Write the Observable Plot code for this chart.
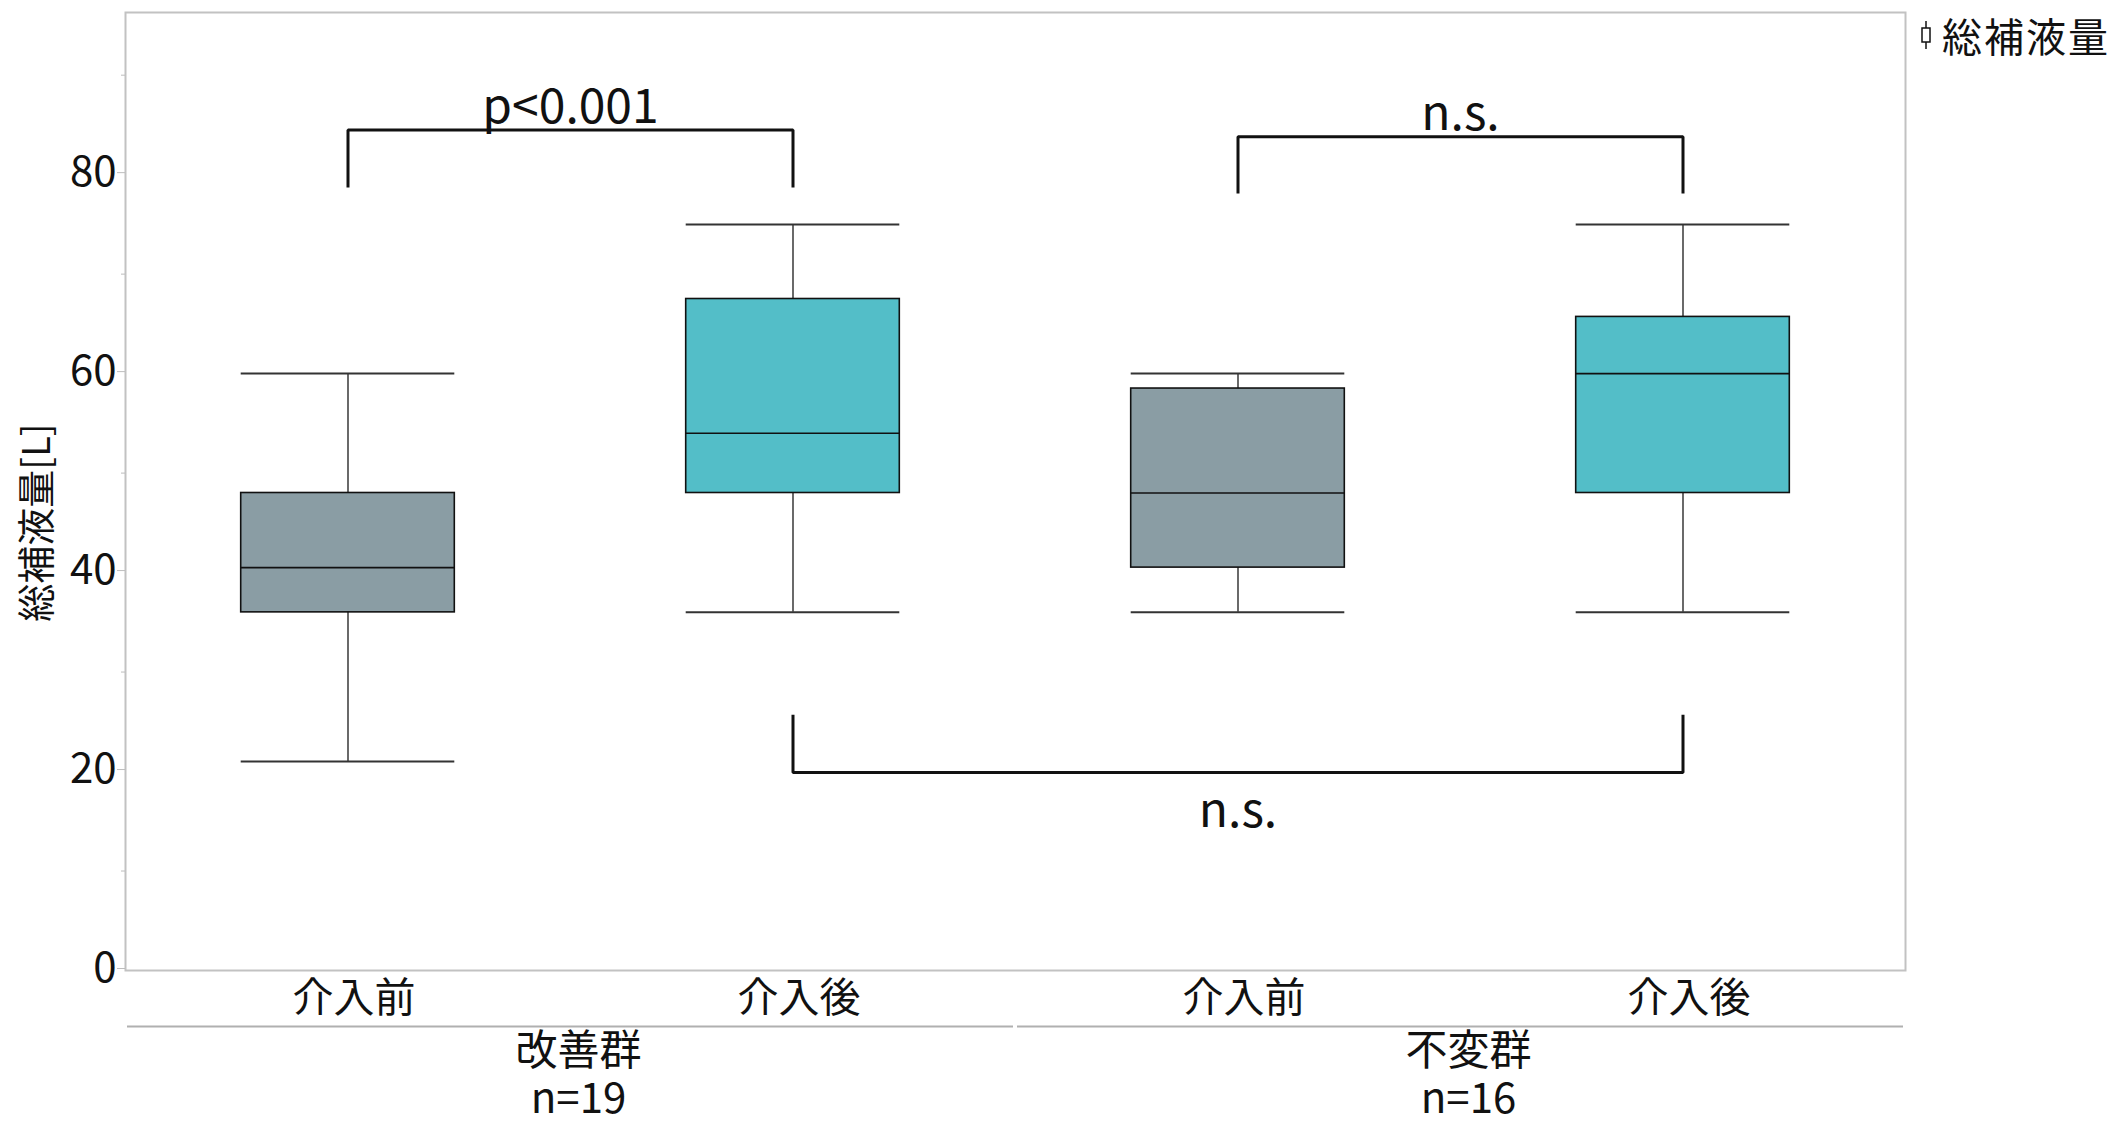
<!DOCTYPE html>
<html>
<head>
<meta charset="utf-8">
<script src="https://cdn.jsdelivr.net/npm/d3@7"></script>
<script src="https://cdn.jsdelivr.net/npm/@observablehq/plot@0.6"></script>
<style>
  html, body { margin: 0; padding: 0; background: #fff; }
  #chart { position: relative; width: 2118px; height: 1123px;
           font-family: "Noto Sans CJK JP", "Noto Sans", sans-serif; color: #111; }
  .legend { position: absolute; left: 1918px; top: 12px; display: flex; align-items: center;
            font-size: 40px; line-height: 46px; letter-spacing: 2px; }
  .legend svg { margin-right: 8px; }
</style>
</head>
<body>
<div id="chart">
  <div class="legend">
    <svg width="16" height="30" viewBox="0 0 16 30">
      <line x1="8" y1="1" x2="8" y2="29" stroke="#111" stroke-width="1.5"/>
      <rect x="4" y="8" width="8" height="14" fill="#fff" stroke="#111" stroke-width="1.5"/>
    </svg>
    <span>総補液量</span>
  </div>
</div>
<script>
// Groups along the bottom and their sample sizes
const groups = ["改善群", "不変群"];
const groupN = ["n=19", "n=16"];
const groupFirst = [0, 2];   // index of the first box in each group
const groupLast = [1, 3];    // index of the last box in each group

// One box per group × phase, left to right
const phases = ["介入前", "介入後", "介入前", "介入後"];
const whiskerLow = [21, 36, 36, 36];
const quartile1 = [36, 48, 40.5, 48];
const median = [40.5, 54, 48, 60];
const quartile3 = [48, 67.5, 58.5, 65.7];
const whiskerHigh = [60, 75, 60, 75];

// Significance brackets between boxes
const bracketFrom = [0, 2, 1];
const bracketTo = [1, 3, 3];
const bracketLevel = [84.5, 83.8, 19.9];
const bracketEnd = [78.7, 78.1, 25.7];
const bracketLabel = ["p<0.001", "n.s.", "n.s."];

// Axis ticks
const yMajorTicks = [0, 20, 40, 60, 80];
const yMinorTicks = [10, 30, 50, 70, 90];
const yTitle = "総補液量[L]";

const phaseColors = ["#8a9da4", "#53bec8"];
const fontFamily = '"Noto Sans CJK JP", "Noto Sans", sans-serif';
const half = 0.24; // half box width in band units

const boxes = phases.map((phase, i) => ({
  i, phase,
  lo: whiskerLow[i], q1: quartile1[i], med: median[i], q3: quartile3[i], hi: whiskerHigh[i]
}));

const bracketPath = bracketFrom.flatMap((a, k) => [
  {k, x: a, y: bracketEnd[k]},
  {k, x: a, y: bracketLevel[k]},
  {k, x: bracketTo[k], y: bracketLevel[k]},
  {k, x: bracketTo[k], y: bracketEnd[k]}
]);
const bracketText = bracketLabel.map((label, k) => ({
  label, x: (bracketFrom[k] + bracketTo[k]) / 2, y: bracketLevel[k], above: bracketLevel[k] > bracketEnd[k]
}));

const groupRows = groups.map((g, j) => ({
  name: g, n: groupN[j], x1: groupFirst[j] - 0.5, x2: groupLast[j] + 0.5,
  xc: (groupFirst[j] + groupLast[j]) / 2
}));

const plot = Plot.plot({
  width: 2118,
  height: 1123,
  marginLeft: 125,
  marginRight: 213,
  marginTop: 12,
  marginBottom: 153,
  style: {fontFamily, fontSize: "40px", color: "#111", background: "transparent", overflow: "visible"},
  x: {type: "linear", domain: [-0.5, 3.5]},
  y: {domain: [0, 96.3]},
  color: {domain: ["介入前", "介入後"], range: phaseColors},
  marks: [
    Plot.frame({stroke: "#c2c2c2", strokeWidth: 2}),
    Plot.axisY({ticks: yMajorTicks, tickSize: 8, tickPadding: 1, fontSize: 42, stroke: "#bdbdbd",
                fill: "#111", label: null, dy: -2}),
    Plot.axisY({ticks: yMinorTicks, tickSize: 4, tickFormat: () => "", stroke: "#bdbdbd", label: null}),
    Plot.axisX({ticks: [0, 1, 2, 3], tickFormat: (i) => phases[i], tickSize: 0, tickPadding: 12,
                fontSize: 41, fill: "#111", label: null, dx: 6}),
    // group separators and labels under the category ticks
    Plot.ruleY(groupRows, {y: 0, x1: "x1", x2: "x2", dy: 56, insetLeft: 2, insetRight: 2,
                           stroke: "#b0b0b0", strokeWidth: 2}),
    Plot.text(groupRows, {x: "xc", y: 0, text: "name", lineAnchor: "top",
                          dy: 65, dx: 8, fontSize: 42, fill: "#111"}),
    Plot.text(groupRows, {x: "xc", y: 0, text: "n", lineAnchor: "bottom",
                          dy: 142, dx: 8, fontSize: 42, fill: "#111"}),
    // y title
    Plot.text([yTitle], {frameAnchor: "left", textAnchor: "middle", rotate: -90, dx: -88, dy: 31,
                         fontSize: 38, fill: "#111"}),
    // box plots
    Plot.ruleX(boxes, {x: "i", y1: "lo", y2: "hi", stroke: "#444", strokeWidth: 1.6}),
    Plot.rect(boxes, {x1: (d) => d.i - half, x2: (d) => d.i + half, y1: "q1", y2: "q3",
                      fill: "phase", stroke: "#111", strokeWidth: 1.6}),
    Plot.ruleY(boxes, {x1: (d) => d.i - half, x2: (d) => d.i + half, y: "med", stroke: "#111", strokeWidth: 1.6}),
    Plot.ruleY(boxes, {x1: (d) => d.i - half, x2: (d) => d.i + half, y: "lo", stroke: "#333", strokeWidth: 2}),
    Plot.ruleY(boxes, {x1: (d) => d.i - half, x2: (d) => d.i + half, y: "hi", stroke: "#333", strokeWidth: 2}),
    // significance brackets
    Plot.line(bracketPath, {x: "x", y: "y", z: "k", stroke: "#111", strokeWidth: 3,
                            strokeLinejoin: "miter", strokeLinecap: "butt", curve: "linear"}),
    Plot.text(bracketText.filter((d) => d.above), {x: "x", y: "y", text: "label", lineAnchor: "bottom",
                                                  dy: -7, fontSize: 48, fill: "#111"}),
    Plot.text(bracketText.filter((d) => !d.above), {x: "x", y: "y", text: "label", lineAnchor: "bottom",
                                                   dy: 54, fontSize: 48, fill: "#111"})
  ]
});

document.getElementById("chart").prepend(plot);
</script>
</body>
</html>
